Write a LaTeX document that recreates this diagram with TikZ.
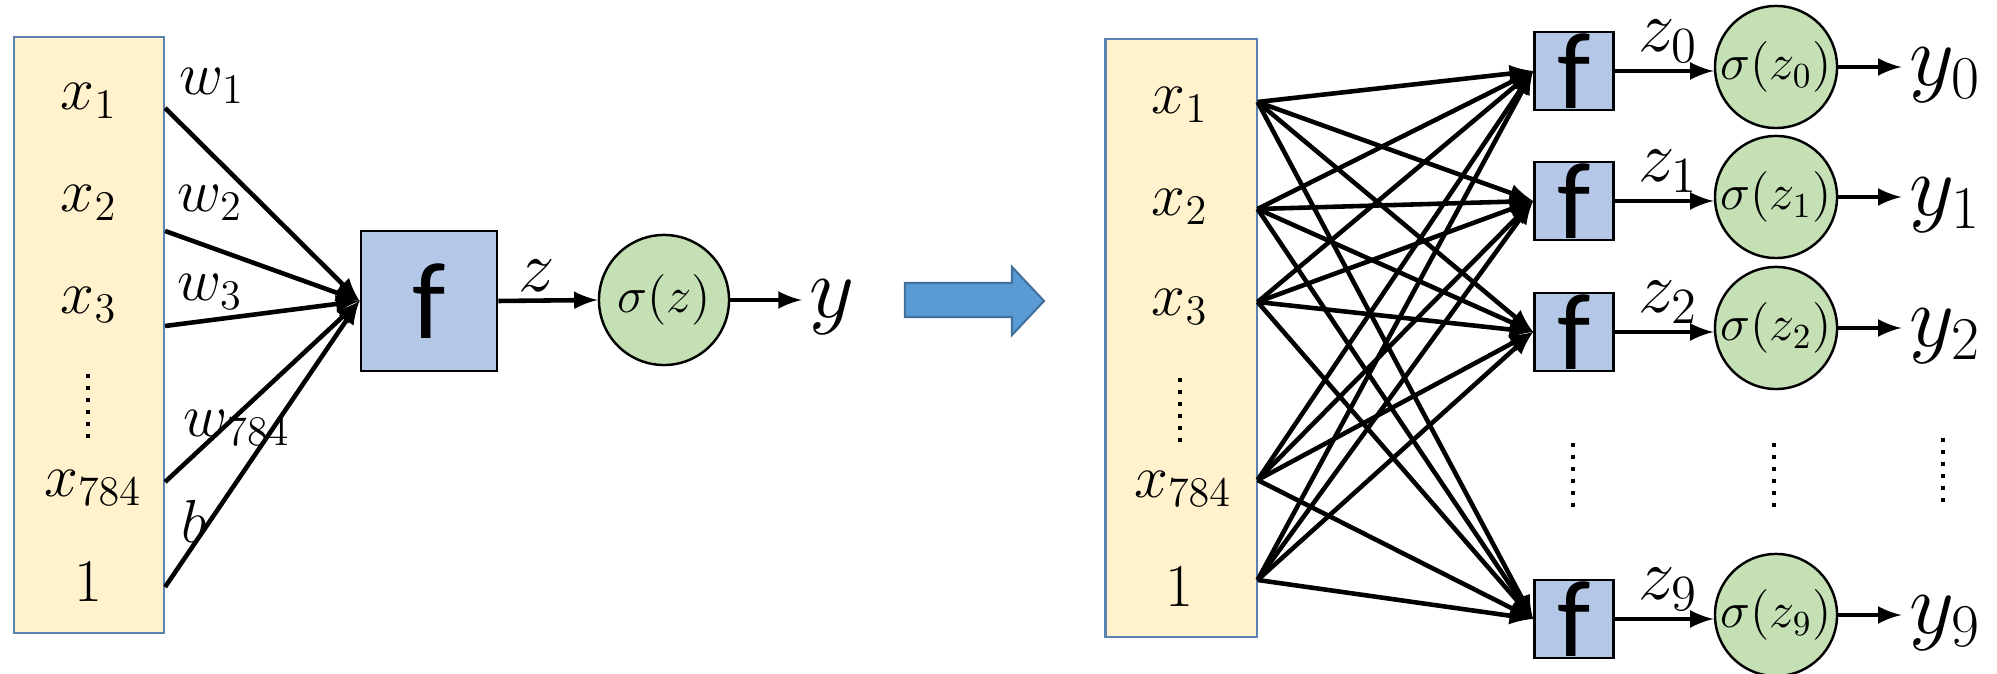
\documentclass[tikz,border=0pt]{standalone}
\usepackage{amsmath,amssymb}
\usepackage{fontspec}
\newfontfamily\calibrifont{Carlito}
\usetikzlibrary{arrows,positioning,calc}

\definecolor{inputfill}{HTML}{FFF2CC}
\definecolor{inputdraw}{HTML}{5B82B0}
\definecolor{ffill}{HTML}{B4C7E7}
\definecolor{sigfill}{HTML}{C5E0B4}
\definecolor{bigarrow}{HTML}{5B9BD5}
\definecolor{bigarrowdraw}{HTML}{41719C}

\begin{document}
\begin{tikzpicture}[x=0.01cm, y=-0.01cm,
	inbox/.style={draw=inputdraw, fill=inputfill, line width=0.6pt, inner sep=0pt},
	fbox/.style={draw=black, fill=ffill, line width=0.8pt, inner sep=0pt, font=\calibrifont\fontsize{31}{31}\selectfont},
	sig/.style={circle, draw=black, fill=sigfill, line width=0.7pt, inner sep=0pt, font=\fontsize{14}{16}\selectfont},
	lbl/.style={inner sep=1pt, font=\fontsize{18}{20}\selectfont},
	zlbl/.style={inner sep=1pt, font=\fontsize{20}{22}\selectfont},
	outlbl/.style={inner sep=2pt, font=\fontsize{23}{25}\selectfont},
	arr/.style={-latex, line width=1.3pt},
	vdots/.style={line width=1.2pt, dash pattern=on 1.2pt off 2.2pt}]
	\useasboundingbox (0,0) rectangle (1997,674);

	% single neuron
	\node[inbox, minimum width=1.50cm, minimum height=5.95cm] (inL) at (89,335) {};
	\node[lbl] (lx1) at (89,101) {$x_1$};
	\node[lbl] (lx2) at (89,203) {$x_2$};
	\node[lbl] (lx3) at (89,305) {$x_3$};
	\node[lbl] (lx784) at (93,488) {$x_{784}$};
	\node[lbl] (lone) at (88,582) {$1$};
	\draw[vdots] (88,374) -- (88,438);

	\node[fbox, minimum width=1.36cm, minimum height=1.40cm] (fL) at (429,301) {f};
	\node[sig, minimum size=1.30cm] (sL) at (664,300) {$\sigma(z)$};
	\node[outlbl] (yL) at (832,307) {$y$};

	\node[lbl] (w1) at (212,86) {$w_1$};
	\node[lbl] (w2) at (210,203) {$w_2$};
	\node[lbl] (w3) at (210,292) {$w_3$};
	\node[lbl] (w784) at (237,428) {$w_{784}$};
	\node[lbl] (wb) at (194,521) {$b$};
	\node[zlbl] (zL) at (537,276) {$z$};

	\foreach \n/\yy in {1/108, 2/231, 3/326, 784/482, b/587}
		\coordinate (a\n) at (inL.east |- 0,\yy);
	\foreach \n in {1,2,3,784,b}
		\draw[arr] (a\n) -- (fL.west);
	\draw[arr] (fL.east) -- (sL.west);
	\draw[arr] (sL.east) -- (sL.east -| yL.west);

	% arrow between the two parts
	\draw[fill=bigarrow, draw=bigarrowdraw, line width=0.6pt] (905,283) -- (1012,283) -- (1012,267) -- (1044,301) -- (1012,335) -- (1012,317) -- (905,317) -- cycle;

	% ten outputs
	\node[inbox, minimum width=1.51cm, minimum height=5.97cm] (inR) at (1181,338) {};
	\node[lbl] (rx1) at (1180,105) {$x_1$};
	\node[lbl] (rx2) at (1180,207) {$x_2$};
	\node[lbl] (rx3) at (1180,307) {$x_3$};
	\node[lbl] (rx784) at (1183,489) {$x_{784}$};
	\node[lbl] (rone) at (1179,587) {$1$};
	\draw[vdots] (1180,378) -- (1180,442);

	\foreach \k/\fy in {0/71, 1/201, 2/332, 9/619} {
		\node[fbox, minimum width=0.79cm, minimum height=0.78cm] (f\k) at (1574,\fy) {f};
		\node[sig, minimum size=1.22cm] (s\k) at (1776,\fy-4) {$\sigma(z_\k)$};
		\node[outlbl] (y\k) at (1945,\fy+4) {$y_\k$};
		\node[zlbl] (z\k) at (1668,\fy-30) {$z_\k$};
		\draw[arr] (f\k.east) -- (f\k.east -| s\k.west);
		\draw[arr] (s\k.east) -- (s\k.east -| y\k.west);
	}
	\draw[vdots] (1573,443) -- (1573,507);
	\draw[vdots] (1774,443) -- (1774,507);
	\draw[vdots] (1943,438) -- (1943,502);

	\foreach \n/\yy in {1/102, 2/209, 3/302, 784/480, b/580}
		\coordinate (r\n) at (inR.east |- 0,\yy);
	\foreach \n in {1,2,3,784,b}
		\foreach \k in {0,1,2,9}
			\draw[arr] (r\n) -- (f\k.west);
\end{tikzpicture}
\end{document}
